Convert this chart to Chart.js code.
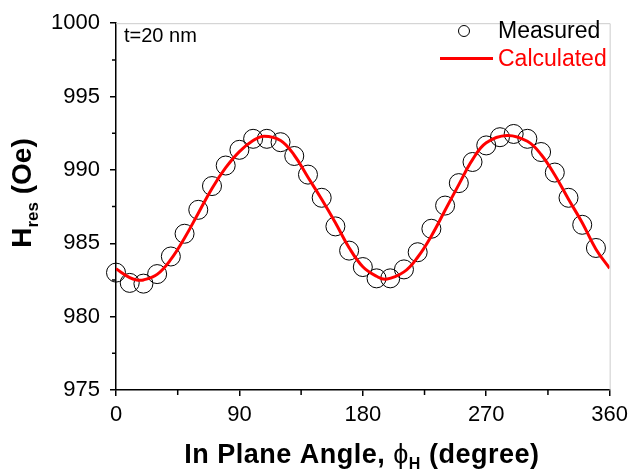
<!DOCTYPE html>
<html><head><meta charset="utf-8">
<script src="https://cdn.jsdelivr.net/npm/chart.js@4/dist/chart.umd.min.js"></script>
<style>html,body{margin:0;padding:0;background:#fff}#wrap{width:634px;height:476px}</style>
</head><body><div id="wrap"><canvas id="c" width="634" height="476"></canvas></div>
<script>
const measuredAngles = [0,10,20,30,40,50,60,70,80,90,100,110,120,130,140,150,160,170,180,190,200,210,220,230,240,250,260,270,280,290,300,310,320,330,340,350];
const measuredHres = [983.0,982.3,982.25,982.9,984.1,985.65,987.28,988.9,990.3,991.37,992.12,992.12,991.89,990.95,989.68,988.1,986.15,984.5,983.38,982.61,982.61,983.22,984.39,985.99,987.57,989.1,990.54,991.67,992.23,992.45,992.12,991.22,989.82,988.1,986.26,984.68];
const calcAngles = [0,10,15,20,30,40,50,60,70,80,90,100,108,120,130,140,150,160,170,180,190,197,210,220,230,240,250,260,270,285,300,310,320,330,340,350,360];
const calcHres = [983.26,982.66,982.5,982.5,982.88,983.9,985.36,987.05,988.74,990.15,991.25,992.0,992.3,992.0,991.0,989.5,988.0,986.4,984.7,983.4,982.75,982.55,983.05,984.05,985.5,987.25,989.0,990.7,991.85,992.35,991.95,991.05,989.65,988.0,986.4,984.6,983.29];
const xTicks = [0,90,180,270,360];
const yTicks = [975,980,985,990,995,1000];
const seriesNames = ['Measured','Calculated'];
const annotationText = 't=20 nm';

const FONT = "'Liberation Sans', Arial, sans-serif";

const deco = {
  id: 'deco',
  afterDraw(chart) {
    const ctx = chart.ctx, a = chart.chartArea;
    const xs = chart.scales.x, ys = chart.scales.y;
    ctx.save();
    // top/right frame
    ctx.strokeStyle = '#cccccc'; ctx.lineWidth = 1;
    ctx.beginPath();
    ctx.moveTo(a.left, a.top + 0.5); ctx.lineTo(a.right + 0.5, a.top + 0.5); ctx.lineTo(a.right + 0.5, a.bottom);
    ctx.stroke();
    // minor ticks
    ctx.strokeStyle = '#000'; ctx.lineWidth = 1.5;
    ctx.beginPath();
    for (let i = 0; i < yTicks.length - 1; i++) {
      const y = ys.getPixelForValue((yTicks[i] + yTicks[i + 1]) / 2);
      ctx.moveTo(a.left - 4, y); ctx.lineTo(a.left, y);
    }
    for (let i = 0; i < xTicks.length - 1; i++) {
      const x = xs.getPixelForValue((xTicks[i] + xTicks[i + 1]) / 2);
      ctx.moveTo(x, a.bottom); ctx.lineTo(x, a.bottom + 5);
    }
    ctx.stroke();
    // annotation
    ctx.fillStyle = '#000';
    ctx.font = '20px ' + FONT;
    ctx.textBaseline = 'middle'; ctx.textAlign = 'left';
    ctx.fillText(annotationText, a.left + 8, 36);
    // legend
    const lx = 498;
    ctx.font = '23px ' + FONT;
    ctx.fillText(seriesNames[0], lx, 32);
    ctx.beginPath(); ctx.arc(464, 31, 5.5, 0, Math.PI * 2);
    ctx.strokeStyle = '#000'; ctx.lineWidth = 1; ctx.stroke();
    ctx.fillStyle = '#ff0000';
    ctx.fillText(seriesNames[1], lx, 60);
    ctx.beginPath(); ctx.moveTo(440, 58.5); ctx.lineTo(493, 58.5);
    ctx.strokeStyle = '#ff0000'; ctx.lineWidth = 3; ctx.stroke();
    // x title
    ctx.fillStyle = '#000';
    ctx.textBaseline = 'alphabetic';
    try { ctx.letterSpacing = '0.5px'; } catch (e) {}
    const bold = 'bold 27px ' + FONT;
    const p1 = 'In Plane Angle, ', phi = '\u03D5', sub = 'H', p3 = ' (degree)';
    ctx.font = bold; const w1 = ctx.measureText(p1).width, w3 = ctx.measureText(p3).width;
    ctx.font = '27px ' + FONT; const wphi = ctx.measureText(phi).width;
    ctx.font = 'bold 16px ' + FONT; const wsub = ctx.measureText(sub).width;
    const total = w1 + wphi + wsub + w3;
    let x = (a.left + a.right) / 2 - total / 2 - 1;
    const by = 463;
    ctx.font = bold; ctx.fillText(p1, x, by); x += w1;
    ctx.font = '27px ' + FONT; ctx.fillText(phi, x, by); x += wphi;
    ctx.font = 'bold 16px ' + FONT; ctx.fillText(sub, x, by + 6); x += wsub;
    ctx.font = bold; ctx.fillText(p3, x, by);
    try { ctx.letterSpacing = '0px'; } catch (e) {}
    // y title
    ctx.save();
    ctx.translate(31, 0); ctx.rotate(-Math.PI / 2);
    const yb = 'bold 28px ' + FONT, ys2 = 'bold 17px ' + FONT;
    const q1 = 'H', q2 = 'res', q3 = ' (Oe)';
    ctx.font = yb; const v1 = ctx.measureText(q1).width, v3 = ctx.measureText(q3).width;
    ctx.font = ys2; const v2 = ctx.measureText(q2).width;
    const tot = v1 + v2 + v3;
    let t = -(193) - tot / 2;
    ctx.font = yb; ctx.fillText(q1, t, 0); t += v1;
    ctx.font = ys2; ctx.fillText(q2, t, 7); t += v2;
    ctx.font = yb; ctx.fillText(q3, t, 0);
    ctx.restore();
    ctx.restore();
  }
};

new Chart(document.getElementById('c'), {
  type: 'scatter',
  data: {
    datasets: [
      {
        label: seriesNames[1],
        data: calcAngles.map((v, i) => ({x: v, y: calcHres[i]})),
        showLine: true, borderColor: '#ff0000', borderWidth: 3, pointRadius: 0,
        tension: 0.4, fill: false, order: 1
      },
      {
        label: seriesNames[0],
        data: measuredAngles.map((v, i) => ({x: v, y: measuredHres[i]})),
        showLine: false, pointStyle: 'circle', pointRadius: 9.5,
        borderColor: '#000', borderWidth: 1, backgroundColor: 'rgba(0,0,0,0)',
        clip: false, order: 2
      }
    ]
  },
  options: {
    responsive: false, animation: false, devicePixelRatio: 1,
    layout: {padding: {left: 0, right: 20, top: 19, bottom: 0}},
    plugins: {legend: {display: false}, tooltip: {enabled: false}},
    scales: {
      x: {
        type: 'linear', min: 0, max: 360,
        afterBuildTicks: s => { s.ticks = xTicks.map(v => ({value: v})); },
        afterFit: s => { s.height = 86; },
        grid: {drawOnChartArea: false, drawTicks: true, tickLength: 6, color: '#000', lineWidth: 1.5},
        border: {display: true, color: '#000', width: 1.5},
        ticks: {color: '#000', font: {family: FONT, size: 22}, padding: 6, maxRotation: 0,
                callback: v => String(v)}
      },
      y: {
        type: 'linear', min: 975, max: 1000,
        afterBuildTicks: s => { s.ticks = yTicks.map(v => ({value: v})); },
        afterFit: s => { s.width = 116; },
        grid: {drawOnChartArea: false, drawTicks: true, tickLength: 6, color: '#000', lineWidth: 1.5},
        border: {display: true, color: '#000', width: 1.5},
        ticks: {color: '#000', font: {family: FONT, size: 22}, padding: 10,
                callback: v => String(v)}
      }
    }
  },
  plugins: [deco]
});
</script></body></html>
